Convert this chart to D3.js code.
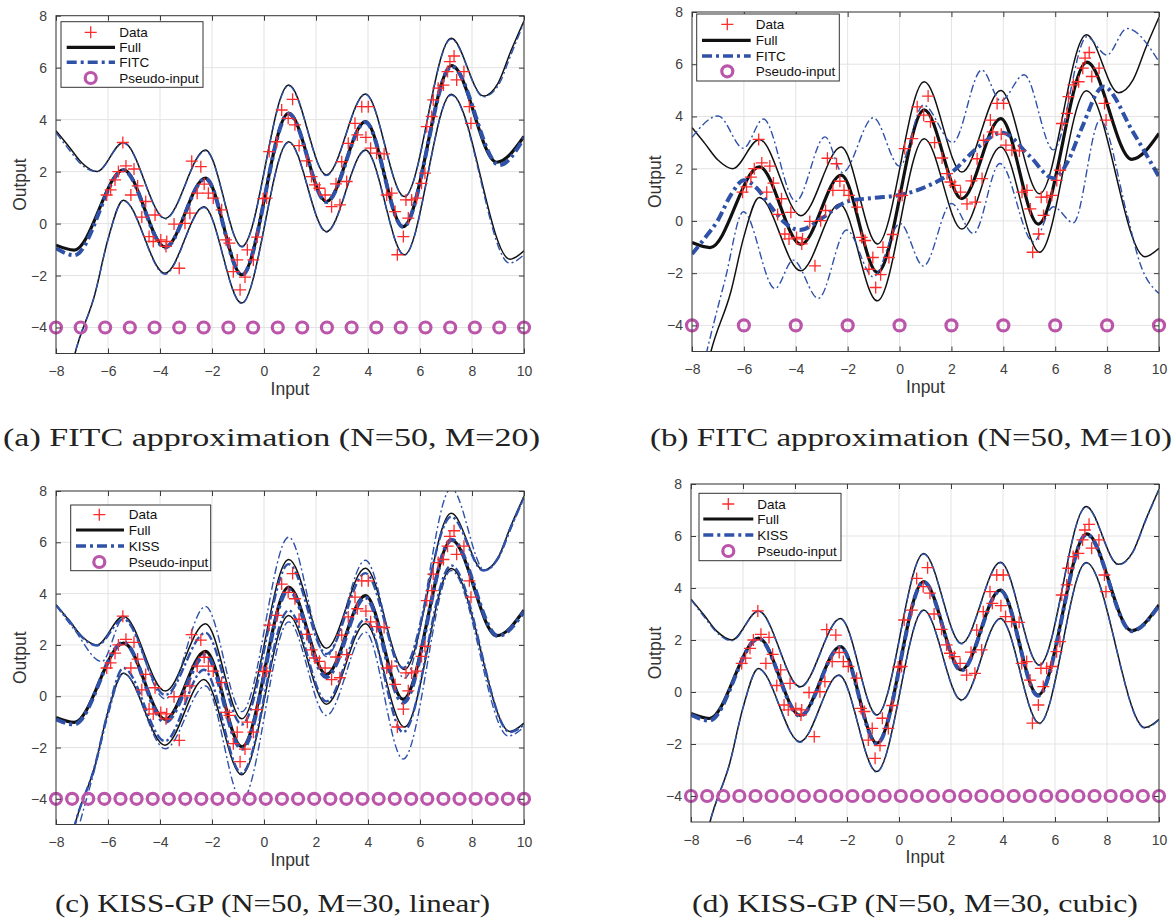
<!DOCTYPE html>
<meta charset="utf-8">
<script src="https://d3js.org/d3.v7.min.js"></script>
<style>
  body { margin: 0; background: #fff; }
  text { font-family: "Liberation Sans", Arial, sans-serif; }
</style>
<div id="fig"></div>
<script>
    var W = 1176, H = 920;
    const xTicks = [-8, -6, -4, -2, 0, 2, 4, 6, 8, 10];
    const yTicks = [-4, -2, 0, 2, 4, 6, 8];

    // observations (same in every panel)
    const dataX = [-6.05,-5.9,-5.73,-5.6,-5.43,-5.31,-5.0,-5.12,-4.86,-4.55,-4.7,-4.19,-4.42,-4.26,-3.97,-3.74,-3.77,-3.46,-3.04,-2.85,-3.26,-2.78,-2.43,-2.3,-2.57,-2.14,-1.95,-1.63,-1.46,-1.33,-1.18,-1.03,-0.73,-0.92,-0.64,-0.41,-0.26,-0.03,0.1,0.2,0.49,0.68,0.93,1.1,1.19,1.35,1.64,1.83,1.96,2.13,2.35,2.6,2.92,2.77,3.18,2.99,3.24,3.5,3.59,3.76,4.01,3.92,4.1,4.33,4.62,4.72,4.91,5.04,5.46,5.68,5.87,5.55,5.36,5.13,6.06,6.19,6.26,6.45,6.51,6.7,6.9,7.06,7.15,7.31,7.41,7.69,7.9,7.96];
    const dataY = [1.1,1.3,1.68,2.0,3.12,2.22,2.1,1.1,1.45,0.85,0.25,0.33,-0.5,-0.69,-0.63,-0.69,-0.88,-0.02,0.01,0.4,-1.72,2.4,2.19,1.52,1.17,1.17,0.98,0.53,-0.63,-0.75,-1.85,-1.4,-2.06,-2.55,-1.01,-1.4,-0.52,0.96,0.98,2.77,3.15,4.37,4.05,4.78,3.8,3.0,2.41,1.81,1.49,1.36,1.1,0.65,0.72,1.53,1.62,2.38,3.09,3.86,3.41,4.5,4.5,3.32,2.9,2.71,2.68,1.1,1.17,0.46,0.91,0.91,0.98,0.21,-0.5,-1.2,1.55,1.94,3.73,4.12,4.76,5.21,5.33,5.85,6.23,6.45,5.53,5.85,4.5,3.86];

    // full GP: mean and two-sigma band (knots at the turning points)
    const fullMeanX = [-8, -7.3, -5.4, -3.8, -2.25, -0.85, 0.95, 2.4, 3.9, 5.35, 7.22, 8.95, 10];
    const fullMeanY = [-0.83, -1.02, 2.07, -0.9, 1.75, -1.97, 4.25, 0.85, 3.92, -0.12, 6.08, 2.36, 3.35];
    const fullUpX = [-8, -7.5, -7, -6.43, -5.41, -3.8, -2.25, -0.85, 0.95, 2.4, 3.9, 5.4, 7.2, 8.44, 9, 9.5, 10];
    const fullUpY = [3.57, 2.96, 2.33, 2.0, 3.12, 0.2, 2.83, -0.88, 5.33, 1.87, 4.99, 1.04, 7.13, 4.91, 5.4, 6.65, 7.8];
    const fullLoX = [-8, -7.27, -6.5, -6, -5.41, -3.81, -2.31, -0.86, 0.95, 2.4, 3.9, 5.4, 7.2, 9.46, 10];
    const fullLoY = [-8.5, -5.0, -2.7, -0.6, 0.9, -1.91, 0.65, -3.06, 3.15, -0.31, 2.83, -1.2, 4.98, -1.37, -1.05];

    // (a) FITC, M=20
    const fitcAMeanX = [-8, -7.3, -5.4, -3.8, -2.25, -0.85, 0.95, 2.4, 3.9, 5.35, 7.22, 9.05, 10];
    const fitcAMeanY = [-0.95, -1.22, 2.05, -0.92, 1.73, -1.98, 4.23, 0.83, 3.9, -0.13, 6.05, 2.25, 3.3];
    const fitcAUpX = [-8, -7.5, -7, -6.43, -5.41, -3.8, -2.25, -0.85, 0.95, 2.4, 3.9, 5.4, 7.2, 8.44, 9, 9.5, 10];
    const fitcAUpY = [3.5, 2.85, 2.25, 2.0, 3.1, 0.18, 2.8, -0.9, 5.3, 1.85, 4.97, 1.02, 7.1, 4.88, 5.3, 6.5, 7.75];
    const fitcALoX = [-8, -7.27, -6.5, -6, -5.41, -3.81, -2.31, -0.86, 0.95, 2.4, 3.9, 5.4, 7.2, 9.45, 10];
    const fitcALoY = [-8.5, -5.0, -2.7, -0.62, 0.88, -1.95, 0.62, -3.08, 3.12, -0.33, 2.8, -1.22, 4.95, -1.52, -1.2];
    const pseudoA = [-8, -7.05, -6.11, -5.16, -4.21, -3.26, -2.32, -1.37, -0.42, 0.53, 1.47, 2.42, 3.37, 4.32, 5.26, 6.21, 7.16, 8.11, 9.05, 10];

    // (b) FITC, M=10
    const fitcBMeanX = [-8, -7.5, -7, -6.5, -6.0, -5.5, -5, -4.5, -3.84, -3, -2, -1, 0, 1, 2, 3, 3.95, 5.0, 5.93, 6.5, 7.0, 7.86, 9.0, 10];
    const fitcBMeanY = [-1.27, -0.65, 0.03, 1.0, 1.56, 1.25, 0.6, 0.0, -0.35, 0.1, 0.75, 0.88, 0.99, 1.3, 1.85, 2.8, 3.38, 2.5, 1.63, 2.3, 3.5, 5.14, 3.4, 1.69];
    const fitcBUpX = [-8, -6.99, -6.02, -5.25, -4.0, -2.87, -2.2, -1.01, 0.0, 0.92, 2.05, 3.17, 3.9, 4.8, 5.93, 7.22, 7.99, 8.76, 10];
    const fitcBUpY = [3.2, 4.02, 2.78, 3.9, 0.75, 3.22, 1.85, 3.95, 2.1, 4.44, 3.0, 5.78, 4.6, 5.6, 2.72, 7.05, 6.35, 7.37, 6.1];
    const fitcBLoX = [-8, -7.43, -6.73, -6.02, -4.8, -4.1, -3.13, -2.04, -1.01, 0.02, 0.92, 2.0, 2.85, 3.87, 5.16, 5.93, 6.7, 7.73, 8.76, 9.27, 10];
    const fitcBLoY = [-7.5, -5.0, -2.27, 0.35, -2.59, -1.5, -2.97, -0.35, -2.14, -0.1, -1.73, 0.67, -0.48, 2.2, -0.8, 0.54, -0.07, 3.86, 0.29, -1.63, -2.78];
    const pseudoB = [-8, -6, -4, -2, 0, 2, 4, 6, 8, 10];

    // (c) KISS-GP, linear interpolation, M=30
    const kissCMeanX = [-8, -7.3, -5.4, -3.8, -2.25, -0.85, 0.95, 2.4, 3.9, 5.35, 7.22, 9.0, 10];
    const kissCMeanY = [-0.9, -1.1, 2.1, -1.0, 1.6, -2.05, 4.15, 0.75, 3.85, -0.25, 6.1, 2.35, 3.3];
    const kissCUpX = [-8, -7.3, -6.24, -5.4, -3.8, -2.25, -0.85, 0.95, 2.4, 3.9, 5.4, 7.2, 8.5, 9, 9.5, 10];
    const kissCUpY = [3.55, 2.6, 1.35, 3.05, -0.1, 3.5, -0.6, 6.2, 1.55, 5.3, 0.7, 8.1, 4.9, 5.35, 6.55, 7.75];
    const kissCLoX = [-8, -7.1, -6.5, -6, -5.4, -3.8, -2.25, -0.85, 0.95, 2.4, 3.9, 5.35, 7.2, 9.4, 10];
    const kissCLoY = [-8.5, -5.0, -2.8, -0.75, 0.9, -2.05, 0.4, -4.05, 2.9, -0.75, 2.5, -2.45, 4.9, -1.55, -1.2];
    // inner pair of dash-dot curves in (c), lying near the full band
    const kissCUp2X = [-8, -7.5, -7, -6.43, -5.41, -3.8, -2.25, -0.85, 0.95, 2.4, 3.9, 5.35, 7.2, 8.44, 9, 9.5, 10];
    const kissCUp2Y = [3.55, 2.95, 2.3, 1.98, 3.0, 0.05, 2.47, -1.1, 5.15, 1.65, 4.8, 1.1, 7.0, 4.9, 5.38, 6.6, 7.75];
    const kissCLo2X = [-8, -7.27, -6.5, -6, -5.41, -3.81, -2.31, -0.86, 0.95, 2.4, 3.9, 5.35, 7.2, 9.46, 10];
    const kissCLo2Y = [-8.5, -5.0, -2.7, -0.6, 1.1, -1.75, 1.03, -3.0, 3.35, -0.2, 3.0, -1.4, 5.1, -1.4, -1.1];
    const pseudoCD = [-8, -7.38, -6.76, -6.14, -5.52, -4.9, -4.28, -3.66, -3.03, -2.41, -1.79, -1.17, -0.55, 0.07, 0.69, 1.31, 1.93, 2.55, 3.17, 3.79, 4.41, 5.03, 5.66, 6.28, 6.9, 7.52, 8.14, 8.76, 9.38, 10];

    // (d) KISS-GP, cubic interpolation, M=30
    const kissDMeanX = [-8, -7.3, -5.4, -3.8, -2.25, -0.85, 0.95, 2.4, 3.9, 5.35, 7.22, 8.95, 10];
    const kissDMeanY = [-0.88, -1.1, 2.05, -0.92, 1.73, -1.99, 4.23, 0.83, 3.9, -0.14, 6.06, 2.34, 3.33];
    const kissDUpX = fullUpX;
    const kissDUpY = [3.55, 2.9, 2.28, 1.97, 3.1, 0.18, 2.81, -0.9, 5.31, 1.85, 4.97, 1.02, 7.11, 4.89, 5.38, 6.62, 7.78];
    const kissDLoX = fullLoX;
    const kissDLoY = [-8.5, -5.0, -2.72, -0.62, 0.88, -1.93, 0.63, -3.08, 3.13, -0.33, 2.81, -1.22, 4.96, -1.39, -1.07];

    const captions = [
        "(a) FITC approximation (N=50, M=20)",
        "(b) FITC approximation (N=50, M=10)",
        "(c) KISS-GP (N=50, M=30, linear)",
        "(d) KISS-GP (N=50, M=30, cubic)"
    ];

    const zip = (xs, ys) => xs.map((v, i) => [v, ys[i]]);
    const BLUE = "#2f52a8", RED = "#ff2a2a", PINK = "#bb55aa", AX = "#3a3a3a";

    var panels = [
        {id: "a", l: 56, r: 524, t: 15.7, b: 353.5, name: "FITC",
         mean: zip(fitcAMeanX, fitcAMeanY), up: zip(fitcAUpX, fitcAUpY), lo: zip(fitcALoX, fitcALoY), pseudo: pseudoA,
         cap: captions[0], capX: 3, capY: 446, capW: 537, outX: 26,
         leg: {x: 61, y: 21.7, w: 142, h: 65.6, rows: [32.3, 47.3, 62.3, 78], sym: 90.7, l0: 66.7, l1: 115, tx: 119.3}},
        {id: "b", l: 692, r: 1159, t: 12, b: 351.5, name: "FITC",
         mean: zip(fitcBMeanX, fitcBMeanY), up: zip(fitcBUpX, fitcBUpY), lo: zip(fitcBLoX, fitcBLoY), pseudo: pseudoB,
         cap: captions[1], capX: 650, capY: 446, capW: 522, outX: 661,
         leg: {x: 696.7, y: 14, w: 142.6, h: 67, rows: [24.3, 40.3, 56, 71.3], sym: 727.3, l0: 702, l1: 750.7, tx: 755.7}},
        {id: "c", l: 56, r: 524, t: 491, b: 824.5, name: "KISS",
         mean: zip(kissCMeanX, kissCMeanY), up: zip(kissCUpX, kissCUpY), lo: zip(kissCLoX, kissCLoY), pseudo: pseudoCD,
         inner: [zip(kissCUp2X, kissCUp2Y), zip(kissCLo2X, kissCLo2Y)],
         cap: captions[2], capX: 55, capY: 912, capW: 435, outX: 26,
         leg: {x: 70.7, y: 505, w: 140, h: 65.7, rows: [514.7, 530, 546, 562], sym: 99.3, l0: 76, l1: 124, tx: 128.7}},
        {id: "d", l: 691, r: 1159, t: 484, b: 822, name: "KISS",
         mean: zip(kissDMeanX, kissDMeanY), up: zip(kissDUpX, kissDUpY), lo: zip(kissDLoX, kissDLoY), pseudo: pseudoCD,
         cap: captions[3], capX: 692, capY: 912, capW: 446, outX: 661,
         leg: {x: 699, y: 493.3, w: 142, h: 67.4, rows: [504, 519, 535, 551], sym: 728.3, l0: 703.3, l1: 753.3, tx: 757.3}}
    ];

    var svg = d3.select("#fig").append("svg")
        .attr("width", W).attr("height", H);

    function plus(sel, cx, cy, s) {
        sel.append("path")
            .attr("d", `M${cx - s},${cy}H${cx + s}M${cx},${cy - s}V${cy + s}`)
            .attr("stroke", RED).attr("stroke-width", 1.3).attr("fill", "none");
    }

    function drawPanel(p) {
        var x = d3.scaleLinear().domain([-8, 10]).range([p.l, p.r]);
        var y = d3.scaleLinear().domain([-5, 8]).range([p.b, p.t]);
        var g = svg.append("g");

        // grid
        g.selectAll(".gx").data(xTicks).join("line")
            .attr("x1", d => x(d)).attr("x2", d => x(d)).attr("y1", p.t).attr("y2", p.b)
            .attr("stroke", "#e3e3e3").attr("stroke-width", 1);
        g.selectAll(".gy").data(yTicks).join("line")
            .attr("y1", d => y(d)).attr("y2", d => y(d)).attr("x1", p.l).attr("x2", p.r)
            .attr("stroke", "#e3e3e3").attr("stroke-width", 1);

        svg.append("clipPath").attr("id", "clip-" + p.id)
            .append("rect").attr("x", p.l).attr("y", p.t).attr("width", p.r - p.l).attr("height", p.b - p.t);
        var plot = g.append("g").attr("clip-path", "url(#clip-" + p.id + ")");
        var line = d3.line().x(d => x(d[0])).y(d => y(d[1])).curve(d3.curveMonotoneX);

        // full GP
        [zip(fullUpX, fullUpY), zip(fullLoX, fullLoY)].forEach(c => {
            plot.append("path").datum(c).attr("d", line)
                .attr("fill", "none").attr("stroke", "#111").attr("stroke-width", 1.5);
        });
        plot.append("path").datum(zip(fullMeanX, fullMeanY)).attr("d", line)
            .attr("fill", "none").attr("stroke", "#111").attr("stroke-width", 3.2);

        // approximation
        [p.up, p.lo].forEach(c => {
            plot.append("path").datum(c).attr("d", line)
                .attr("fill", "none").attr("stroke", BLUE).attr("stroke-width", 1.4)
                .attr("stroke-dasharray", "8,3,2,3");
        });
        (p.inner || []).forEach(c => {
            plot.append("path").datum(c).attr("d", line)
                .attr("fill", "none").attr("stroke", BLUE).attr("stroke-width", 2.4)
                .attr("stroke-dasharray", "9,3,2.5,3");
        });
        plot.append("path").datum(p.mean).attr("d", line)
            .attr("fill", "none").attr("stroke", BLUE).attr("stroke-width", 4)
            .attr("stroke-dasharray", "10,4,3,4");

        // data
        dataX.forEach((v, i) => plus(plot, x(v), y(dataY[i]), 6));

        // pseudo-inputs
        g.selectAll(".pi").data(p.pseudo).join("circle")
            .attr("cx", d => x(d)).attr("cy", y(-4)).attr("r", 5.5)
            .attr("fill", "none").attr("stroke", PINK).attr("stroke-width", 3.2);

        // axes with inward ticks on all four sides
        g.append("g").attr("transform", `translate(0,${p.b})`)
            .call(d3.axisBottom(x).tickValues(xTicks).tickSize(-5).tickPadding(13).tickSizeOuter(0));
        g.append("g").attr("transform", `translate(${p.l},0)`)
            .call(d3.axisLeft(y).tickValues(yTicks).tickSize(-5).tickPadding(9).tickSizeOuter(0));
        g.append("g").attr("transform", `translate(0,${p.t})`)
            .call(d3.axisTop(x).tickValues(xTicks).tickSize(-5).tickFormat("").tickSizeOuter(0));
        g.append("g").attr("transform", `translate(${p.r},0)`)
            .call(d3.axisRight(y).tickValues(yTicks).tickSize(-5).tickFormat("").tickSizeOuter(0));
        g.selectAll(".domain").remove();
        g.selectAll(".tick line").attr("stroke", AX);
        g.selectAll(".tick text").attr("fill", "#404040").style("font-size", "14px")
            .style("font-family", "'Liberation Sans', Arial, sans-serif");
        g.append("rect").attr("x", p.l).attr("y", p.t).attr("width", p.r - p.l).attr("height", p.b - p.t)
            .attr("fill", "none").attr("stroke", AX).attr("stroke-width", 1);

        // axis titles
        g.append("text").attr("x", (p.l + p.r) / 2).attr("y", p.b + 41)
            .attr("text-anchor", "middle").attr("fill", "#333").style("font-size", "17.5px").text("Input");
        g.append("text").attr("transform", `translate(${p.outX},${(p.t + p.b) / 2}) rotate(-90)`)
            .attr("text-anchor", "middle").attr("fill", "#333").style("font-size", "17.5px").text("Output");

        // legend
        var L = p.leg;
        var lg = g.append("g");
        lg.append("rect").attr("x", L.x).attr("y", L.y).attr("width", L.w).attr("height", L.h)
            .attr("fill", "#fff").attr("stroke", "#333").attr("stroke-width", 1);
        plus(lg, L.sym, L.rows[0], 6);
        lg.append("line").attr("x1", L.l0).attr("x2", L.l1).attr("y1", L.rows[1]).attr("y2", L.rows[1])
            .attr("stroke", "#111").attr("stroke-width", 3.2);
        lg.append("line").attr("x1", L.l0).attr("x2", L.l1).attr("y1", L.rows[2]).attr("y2", L.rows[2])
            .attr("stroke", BLUE).attr("stroke-width", 3.6).attr("stroke-dasharray", "10,4,3,4");
        lg.append("circle").attr("cx", L.sym).attr("cy", L.rows[3]).attr("r", 5.5)
            .attr("fill", "none").attr("stroke", PINK).attr("stroke-width", 3.2);
        ["Data", "Full", p.name, "Pseudo-input"].forEach((t, i) => {
            lg.append("text").attr("x", L.tx).attr("y", L.rows[i]).attr("dy", "0.35em")
                .attr("fill", "#111").style("font-size", "13.5px").text(t);
        });

        // caption
        svg.append("text").attr("x", p.capX).attr("y", p.capY)
            .attr("textLength", p.capW).attr("lengthAdjust", "spacingAndGlyphs")
            .style("font-family", "'Liberation Serif', 'DejaVu Serif', serif").style("font-size", "26px")
            .attr("fill", "#222").text(p.cap);
    }

    panels.forEach(drawPanel);
</script>
